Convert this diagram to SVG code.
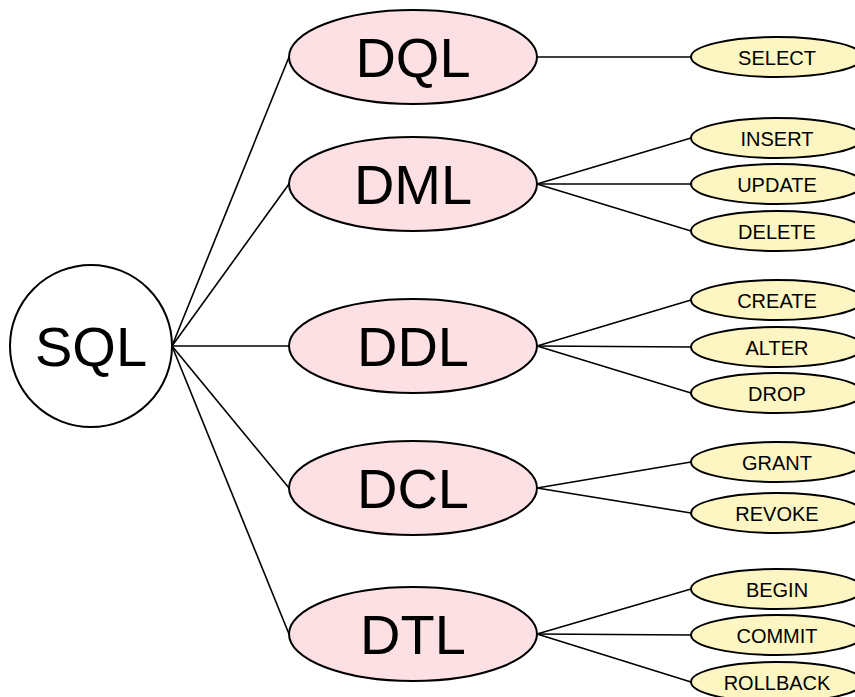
<svg xmlns="http://www.w3.org/2000/svg" width="855" height="697" viewBox="0 0 855 697">
<style>
.big{fill:#fde0e3;stroke:#000;stroke-width:2}
.small{fill:#fdf6c2;stroke:#000;stroke-width:2}
.root{fill:#fff;stroke:#000;stroke-width:2}
.bt{font-family:"Liberation Sans",Arial,sans-serif;font-size:56px;text-anchor:middle;fill:#000}
.st{font-family:"Liberation Sans",Arial,sans-serif;font-size:20px;text-anchor:middle;fill:#000}
#connectors line{stroke:#000;stroke-width:1.6}
</style>
<rect width="855" height="697" fill="#fff"/>
<g id="connectors">
<line x1="172" y1="346" x2="289" y2="57"/>
<line x1="172" y1="346" x2="289" y2="184"/>
<line x1="172" y1="346" x2="289" y2="346"/>
<line x1="172" y1="346" x2="289" y2="488"/>
<line x1="172" y1="346" x2="289" y2="634"/>
<line x1="537" y1="57" x2="691" y2="57"/>
<line x1="537" y1="184" x2="691" y2="138"/>
<line x1="537" y1="184" x2="691" y2="184"/>
<line x1="537" y1="184" x2="691" y2="231"/>
<line x1="537" y1="346" x2="691" y2="300"/>
<line x1="537" y1="346" x2="691" y2="347"/>
<line x1="537" y1="346" x2="691" y2="393"/>
<line x1="537" y1="488" x2="691" y2="462"/>
<line x1="537" y1="488" x2="691" y2="513"/>
<line x1="537" y1="634" x2="691" y2="589"/>
<line x1="537" y1="634" x2="691" y2="635"/>
<line x1="537" y1="634" x2="691" y2="682"/>
</g>
<g id="sql"><circle class="root" cx="91" cy="346" r="81"/><text class="bt" x="91" y="366">SQL</text></g>
<g id="dql"><ellipse class="big" cx="413" cy="57" rx="124" ry="47"/><text class="bt" x="413" y="77">DQL</text></g>
<g id="dml"><ellipse class="big" cx="413" cy="184" rx="124" ry="47"/><text class="bt" x="413" y="204">DML</text></g>
<g id="ddl"><ellipse class="big" cx="413" cy="346" rx="124" ry="47"/><text class="bt" x="413" y="366">DDL</text></g>
<g id="dcl"><ellipse class="big" cx="413" cy="488" rx="124" ry="47"/><text class="bt" x="413" y="508">DCL</text></g>
<g id="dtl"><ellipse class="big" cx="413" cy="634" rx="124" ry="47"/><text class="bt" x="413" y="654">DTL</text></g>
<g id="select"><ellipse class="small" cx="777" cy="57" rx="86" ry="20"/><text class="st" x="777" y="65">SELECT</text></g>
<g id="insert"><ellipse class="small" cx="777" cy="138" rx="86" ry="20"/><text class="st" x="777" y="146">INSERT</text></g>
<g id="update"><ellipse class="small" cx="777" cy="184" rx="86" ry="20"/><text class="st" x="777" y="192">UPDATE</text></g>
<g id="delete"><ellipse class="small" cx="777" cy="231" rx="86" ry="20"/><text class="st" x="777" y="239">DELETE</text></g>
<g id="create"><ellipse class="small" cx="777" cy="300" rx="86" ry="20"/><text class="st" x="777" y="308">CREATE</text></g>
<g id="alter"><ellipse class="small" cx="777" cy="347" rx="86" ry="20"/><text class="st" x="777" y="355">ALTER</text></g>
<g id="drop"><ellipse class="small" cx="777" cy="393" rx="86" ry="20"/><text class="st" x="777" y="401">DROP</text></g>
<g id="grant"><ellipse class="small" cx="777" cy="462" rx="86" ry="20"/><text class="st" x="777" y="470">GRANT</text></g>
<g id="revoke"><ellipse class="small" cx="777" cy="513" rx="86" ry="20"/><text class="st" x="777" y="521">REVOKE</text></g>
<g id="begin"><ellipse class="small" cx="777" cy="589" rx="86" ry="20"/><text class="st" x="777" y="597">BEGIN</text></g>
<g id="commit"><ellipse class="small" cx="777" cy="635" rx="86" ry="20"/><text class="st" x="777" y="643">COMMIT</text></g>
<g id="rollback"><ellipse class="small" cx="777" cy="682" rx="86" ry="20"/><text class="st" x="777" y="690">ROLLBACK</text></g>
</svg>
